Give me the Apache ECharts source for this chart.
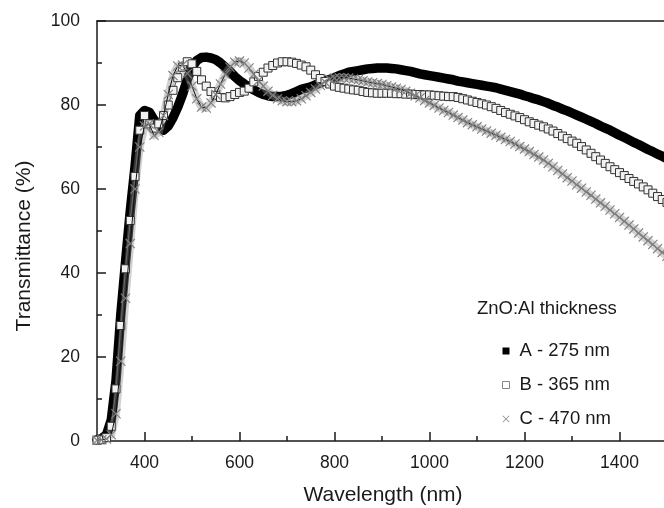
<html>
<head>
<meta charset="UTF-8" />
<title>ZnO:Al transmittance</title>
<style>
  html, body { margin: 0; padding: 0; background: #fff; }
  #main { width: 664px; height: 508px; }
</style>
</head>
<body>
<div id="main"></div>
<script type="text/javascript" src="https://cdn.jsdelivr.net/npm/echarts@6/dist/echarts.min.js"></script>
<script type="text/javascript">
// wavelength grid (nm), 10 nm steps
var wavelength = [];
for (var w = 300; w <= 1500; w += 10) wavelength.push(w);

// A - 275 nm
var seriesA = [
  0.3, 0.6, 1.5, 5, 14.4, 30, 42.5, 54.7, 65.3, 77.5,          // 300-390
  78.7, 78.3, 76.5, 74.8, 74, 75, 77, 79.5, 82.5, 86,          // 400-490
  89, 90.6, 91.3, 91.4, 91.2, 90.8, 90, 89, 88, 86.8,          // 500-590
  85.8, 85, 84.3, 83.6, 83, 82.5, 82.2, 82, 82, 82.1,          // 600-690
  82.3, 82.7, 83.2, 83.7, 84, 84.3, 84.8, 85.3, 85.7, 86.1,    // 700-790
  86.5, 87, 87.4, 87.8, 88, 88.2, 88.4, 88.6, 88.7, 88.8,      // 800-890
  88.8, 88.8, 88.7, 88.6, 88.4, 88.2, 88, 87.7, 87.4, 87.2,    // 900-990
  87, 86.8, 86.6, 86.4, 86.2, 86, 85.7, 85.5, 85.3, 85.1,      // 1000-1090
  84.9, 84.7, 84.5, 84.3, 84.1, 83.8, 83.5, 83.2, 82.9, 82.6,  // 1100-1190
  82.2, 81.9, 81.5, 81.2, 80.8, 80.4, 79.9, 79.5, 79, 78.6,    // 1200-1290
  78.1, 77.6, 77.1, 76.6, 76.1, 75.6, 75, 74.5, 74, 73.4,      // 1300-1390
  72.8, 72.3, 71.7, 71.1, 70.6, 70, 69.4, 68.9, 68.3, 67.8,    // 1400-1490
  67.2                                                         // 1500
];

// B - 365 nm
var seriesB = [
  0.2, 0.3, 0.8, 3.5, 12.4, 27.5, 41, 52.5, 63, 74,            // 300-390
  77.5, 75.5, 74.5, 75.5, 77.5, 80, 83.5, 86.5, 89, 90.3,      // 400-490
  89.8, 88, 86, 84.5, 83.2, 82.3, 81.8, 81.7, 82, 82.5,        // 500-590
  83, 83.3, 84, 85.5, 86.8, 87.8, 88.8, 89.4, 90, 90.3,        // 600-690
  90.3, 90.2, 89.9, 89.5, 89.1, 88.3, 87.2, 86.3, 85.6, 85,    // 700-790
  84.5, 84.2, 84, 83.8, 83.6, 83.5, 83.2, 83, 82.9, 82.8,      // 800-890
  82.8, 82.8, 82.8, 82.7, 82.7, 82.6, 82.6, 82.5, 82.5, 82.4,  // 900-990
  82.4, 82.3, 82.2, 82.1, 82, 82, 81.8, 81.5, 81.2, 80.9,      // 1000-1090
  80.6, 80.3, 80, 79.6, 79.2, 78.7, 78.2, 77.8, 77.4, 77,      // 1100-1190
  76.5, 76, 75.6, 75.2, 74.8, 74.3, 73.8, 73.2, 72.6, 72,      // 1200-1290
  71.4, 70.9, 70.1, 69.3, 68.5, 67.7, 66.9, 66.1, 65.3, 64.6,  // 1300-1390
  63.9, 63.2, 62.5, 61.8, 61.2, 60.5, 59.8, 59, 58.2, 57.5,    // 1400-1490
  56.8                                                         // 1500
];

// C - 470 nm
var seriesC = [
  0.2, 0.3, 0.5, 1.5, 6.5, 19, 34, 47, 60, 70,                 // 300-390
  75, 75.5, 72.8, 73.5, 77.5, 82.5, 87, 89.3, 89.5, 87.5,      // 400-490
  84.5, 81.5, 79.5, 79.3, 80.5, 82.5, 85, 87.3, 89, 90.2,      // 500-590
  90.5, 90, 88.8, 87.3, 85.8, 84.5, 83.3, 82.3, 81.5, 81,      // 600-690
  80.8, 80.8, 81, 81.5, 82.2, 83, 83.8, 84.7, 85.5, 86.1,      // 700-790
  86.4, 86.5, 86.5, 86.4, 86.2, 86, 85.8, 85.5, 85.3, 85.1,    // 800-890
  84.9, 84.6, 84.3, 84, 83.7, 83.3, 82.8, 82.2, 81.7, 81.1,    // 900-990
  80.5, 79.9, 79.3, 78.7, 78.2, 77.6, 77, 76.4, 75.8, 75.3,    // 1000-1090
  74.8, 74.3, 73.8, 73.3, 72.8, 72.3, 71.8, 71.3, 70.7, 70.1,  // 1100-1190
  69.5, 68.9, 68.2, 67.6, 66.9, 66.1, 65.3, 64.4, 63.6, 62.7,  // 1200-1290
  61.9, 61, 60.2, 59.3, 58.5, 57.6, 56.7, 55.9, 55, 54.1,      // 1300-1390
  53.2, 52.3, 51.4, 50.5, 49.5, 48.6, 47.7, 46.8, 45.8, 44.9,  // 1400-1490
  44                                                           // 1500
];

var xMajorTicks = [400, 600, 800, 1000, 1200, 1400];
var xMinorTicks = [500, 700, 900, 1100, 1300, 1500];
var seriesNames = ['A - 275 nm', 'B - 365 nm', 'C - 470 nm'];

function pairs(vals) {
  var out = [];
  for (var i = 0; i < vals.length; i++) out.push([wavelength[i], vals[i]]);
  return out;
}

var FONT = 'Liberation Sans, Arial, sans-serif';
var INK = '#1a1a1a';
var crossPath = 'path://M0,0.8L0.8,0L5,4.2L9.2,0L10,0.8L5.8,5L10,9.2L9.2,10L5,5.8L0.8,10L0,9.2L4.2,5Z';

var myChart = echarts.init(document.getElementById('main'));

var option = {
  animation: false,
  backgroundColor: '#fff',
  grid: { left: 97, top: 21, width: 570, height: 420, outerBoundsMode: 'none', containLabel: false },
  xAxis: [
    {
      type: 'value', min: 300, max: 1500, interval: 100, position: 'bottom',
      axisLine: { show: true, lineStyle: { color: INK, width: 1.5 } },
      axisTick: { show: true, inside: true, length: 9, customValues: xMajorTicks, lineStyle: { color: INK, width: 1.5 } },
      axisLabel: {
        show: true, margin: 13, color: INK, fontSize: 17.5, fontFamily: FONT,
        customValues: xMajorTicks,
        formatter: function (v) { return v % 200 === 0 ? String(v) : ''; }
      },
      splitLine: { show: false }
    },
    {
      type: 'value', min: 300, max: 1500, interval: 100, position: 'bottom',
      axisLine: { show: false },
      axisTick: { show: true, inside: true, length: 5, customValues: xMinorTicks, lineStyle: { color: INK, width: 1.5 } },
      axisLabel: { show: false },
      splitLine: { show: false }
    },
    {
      type: 'value', min: 300, max: 1500, position: 'top',
      axisLine: { show: true, lineStyle: { color: INK, width: 1.5 } },
      axisTick: { show: false }, axisLabel: { show: false }, splitLine: { show: false }
    }
  ],
  yAxis: [{
    type: 'value', min: 0, max: 100, interval: 20,
    axisLine: { show: true, lineStyle: { color: INK, width: 1.5 } },
    axisTick: { show: true, inside: true, length: 9, lineStyle: { color: INK, width: 1.5 } },
    minorTick: { show: true, splitNumber: 2, length: 5, lineStyle: { color: INK, width: 1.5 } },
    axisLabel: { margin: 17, color: INK, fontSize: 17.5, fontFamily: FONT },
    splitLine: { show: false },
    minorSplitLine: { show: false }
  }],
  legend: {
    orient: 'vertical', left: 497, top: 336, itemWidth: 7, itemHeight: 7, itemGap: 14,
    textStyle: { color: INK, fontSize: 18.5, fontFamily: FONT, lineHeight: 20, padding: [0, 0, 0, 5] },
    data: [
      { name: seriesNames[0], icon: 'rect', itemStyle: { color: '#000', borderWidth: 0 } },
      { name: seriesNames[1], icon: 'rect', itemStyle: { color: '#fff', borderColor: '#888', borderWidth: 1 } },
      { name: seriesNames[2], icon: crossPath, itemStyle: { color: '#888', borderWidth: 0 } }
    ]
  },
  graphic: [
    { type: 'text', x: 477, y: 309, style: { text: 'ZnO:Al thickness', fill: INK, fontSize: 18.5, fontFamily: FONT, verticalAlign: 'middle' } },
    { type: 'text', x: 383, y: 495, style: { text: 'Wavelength (nm)', fill: INK, fontSize: 21, fontFamily: FONT, align: 'center', verticalAlign: 'middle' } },
    { type: 'text', x: 24, y: 246, rotation: Math.PI / 2, style: { text: 'Transmittance (%)', fill: INK, fontSize: 21, fontFamily: FONT, align: 'center', verticalAlign: 'middle' } }
  ],
  series: [
    {
      name: seriesNames[0], type: 'line', xAxisIndex: 0, data: pairs(seriesA),
      showSymbol: false, symbol: 'rect',
      lineStyle: { color: '#000', width: 9.5, join: 'round', cap: 'round' },
      itemStyle: { color: '#000' },
      z: 2
    },
    {
      name: seriesNames[1], type: 'line', xAxisIndex: 0, data: pairs(seriesB),
      showSymbol: true, showAllSymbol: true, symbol: 'rect', symbolSize: 8,
      lineStyle: { color: '#555', width: 1 },
      itemStyle: { color: '#f2f2f2', borderColor: '#333', borderWidth: 1 },
      z: 3
    },
    {
      // soft band under the crosses, same C data
      name: seriesNames[2] + ' band', type: 'line', xAxisIndex: 0, data: pairs(seriesC),
      showSymbol: false, silent: true,
      lineStyle: { color: 'rgba(140,140,140,0.4)', width: 8, join: 'round' },
      z: 3
    },
    {
      name: seriesNames[2], type: 'line', xAxisIndex: 0, data: pairs(seriesC),
      showSymbol: true, showAllSymbol: true, symbol: crossPath, symbolSize: 10,
      lineStyle: { color: '#111', width: 1 },
      itemStyle: { color: '#808080', borderWidth: 0 },
      z: 4
    }
  ]
};

myChart.setOption(option);
</script>
</body>
</html>
